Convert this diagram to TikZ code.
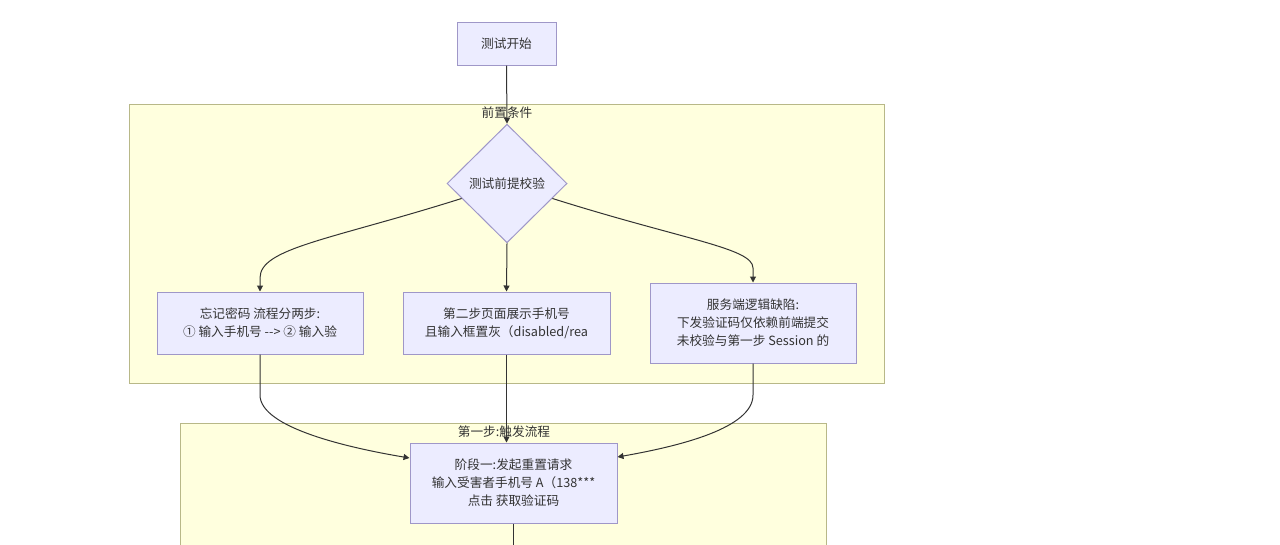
\documentclass[tikz,border=0pt]{standalone}
\usepackage{fontspec}
\setmainfont{Noto Sans CJK SC}
\definecolor{lilaNodo}{HTML}{ECECFF}
\definecolor{bordeNodo}{HTML}{9F97C8}
\definecolor{amarilloGrupo}{HTML}{FFFFDE}
\definecolor{bordeGrupo}{HTML}{B8B888}
\definecolor{linea}{HTML}{333333}
\usetikzlibrary{shapes.geometric, arrows.meta, positioning, calc}

\begin{document}
\begin{tikzpicture}[x=0.75pt,y=-0.75pt,
  texto/.style={font=\fontsize{9.5}{13.5}\selectfont, text=linea},
  caja/.style={texto, draw=bordeNodo, fill=lilaNodo, line width=0.75pt, align=center, inner sep=0pt},
  rombo/.style={texto, diamond, draw=bordeNodo, fill=lilaNodo, line width=0.75pt,
                minimum width=90pt, minimum height=89pt, inner sep=0pt},
  grupo/.style={draw=bordeGrupo, fill=amarilloGrupo, line width=0.75pt},
  flecha/.style={draw=linea, line width=0.75pt, -{Triangle[length=4.5pt,width=4.5pt]}}]
  \useasboundingbox (0,0) rectangle (1280,544);
  % Subgrafos
  \draw[grupo] (129,104) rectangle (884,383);
  \node[texto] (tPrevio) at (507,113) {前置条件};
  \draw[grupo] (180,423) rectangle (826,560);
  \node[texto] (tPaso1) at (504,432) {第一步:触发流程};
  % Nodos
  \node[caja, minimum width=74.25pt, minimum height=32.25pt] (inicio) at (506.5,43.5) {测试开始};
  \node[rombo] (check) at (507,183.5) {测试前提校验};
  \node[caja, minimum width=154.5pt, minimum height=46.5pt] (pasos) at (260,323)
    {忘记密码 流程分两步:\\① 输入手机号 -{}-{}> ② 输入验};
  \node[caja, minimum width=155.25pt, minimum height=46.5pt] (gris) at (506.5,323)
    {第二步页面展示手机号\\且输入框置灰（disabled/rea};
  \node[caja, minimum width=154.5pt, minimum height=60pt] (fallo) at (753,323)
    {服务端逻辑缺陷:\\下发验证码仅依赖前端提交\\未校验与第一步 Session 的};
  \node[caja, minimum width=155.25pt, minimum height=60pt] (fase) at (513.5,483)
    {阶段一:发起重置请求\\输入受害者手机号 A（138***\\点击 获取验证码};
  % Conectores
  \coordinate (sA) at ($(check.west)!0.25!(check.south)$);
  \coordinate (sC) at ($(check.east)!0.25!(check.south)$);
  \coordinate (salida) at (513.5,560);
  \draw[flecha] (inicio.south) -- (check.north);
  \draw[flecha] (sA) .. controls (330,240) and (260,248) .. (260,278) -- (pasos.north);
  \draw[flecha] (check.south) -- (gris.north);
  \draw[flecha] (sC) .. controls (684,240) and (753,248) .. (753,268) -- (fallo.north);
  \draw[flecha] (pasos.south) -- (260,395) .. controls (260,428) and (350,448) .. ($(fase.west)+(0,-25)$);
  \draw[flecha] (gris.south) -- (gris.south |- fase.north);
  \draw[flecha] (fallo.south) -- (753,395) .. controls (753,428) and (680,446) .. ($(fase.east)+(0,-26)$);
  \draw[linea, line width=0.75pt] (fase.south) -- (salida);
\end{tikzpicture}
\end{document}
